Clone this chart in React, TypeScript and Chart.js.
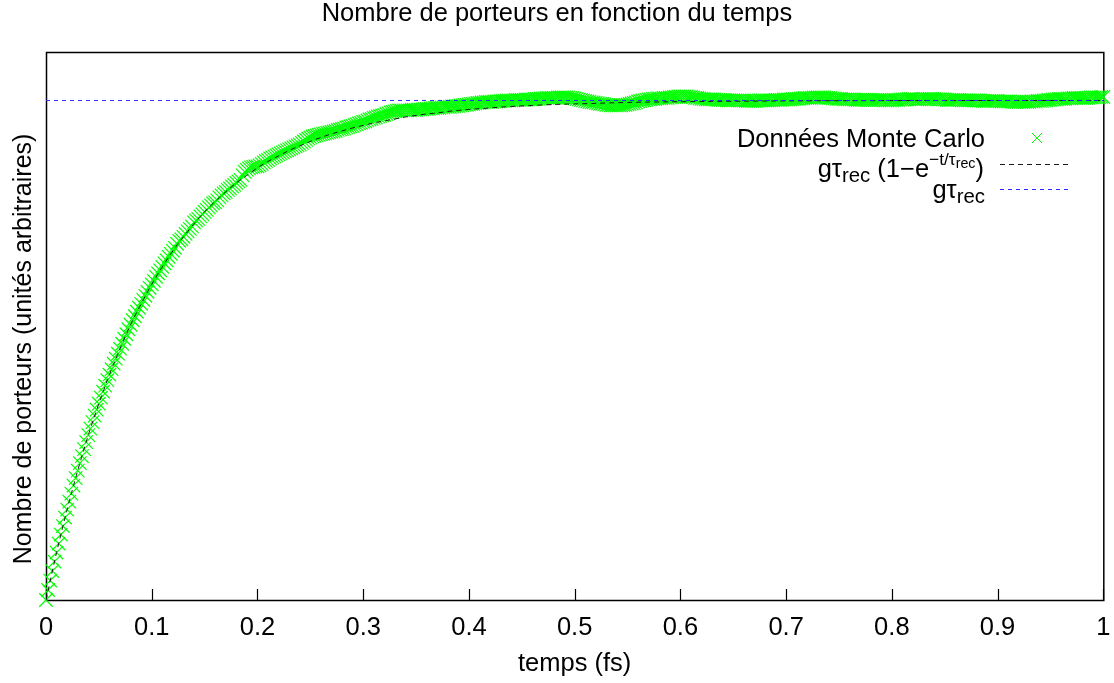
import React, { useEffect, useRef } from "react";
import { Chart, registerables } from "chart.js";

Chart.register(...registerables);

// Monte Carlo samples: one value every MC_STEP fs, starting at t = 0
const MC_STEP = 0.002;
const mcValues: number[] = [
  // 0.000 - 0.098
  0.000, 0.020, 0.039, 0.058, 0.077, 0.095, 0.113, 0.131, 0.148, 0.165,
  0.181, 0.197, 0.213, 0.229, 0.244, 0.259, 0.274, 0.288, 0.302, 0.316,
  0.330, 0.343, 0.356, 0.369, 0.381, 0.393, 0.405, 0.417, 0.429, 0.440,
  0.451, 0.462, 0.473, 0.483, 0.493, 0.503, 0.513, 0.523, 0.532, 0.542,
  0.551, 0.560, 0.568, 0.577, 0.585, 0.593, 0.601, 0.609, 0.617, 0.625,
  // 0.100 - 0.198
  0.632, 0.639, 0.647, 0.654, 0.660, 0.667, 0.674, 0.680, 0.687, 0.693,
  0.699, 0.705, 0.713, 0.719, 0.722, 0.727, 0.733, 0.738, 0.743, 0.748,
  0.756, 0.760, 0.763, 0.768, 0.772, 0.777, 0.781, 0.786, 0.790, 0.794,
  0.796, 0.800, 0.806, 0.810, 0.814, 0.817, 0.821, 0.824, 0.828, 0.831,
  0.835, 0.838, 0.841, 0.850, 0.857, 0.861, 0.864, 0.866, 0.867, 0.868,
  // 0.200 - 0.298
  0.868, 0.870, 0.873, 0.876, 0.879, 0.881, 0.884, 0.886, 0.888, 0.890,
  0.892, 0.894, 0.896, 0.898, 0.900, 0.902, 0.904, 0.906, 0.908, 0.910,
  0.912, 0.915, 0.918, 0.921, 0.924, 0.926, 0.928, 0.929, 0.930, 0.931,
  0.932, 0.933, 0.934, 0.935, 0.936, 0.937, 0.938, 0.939, 0.941, 0.942,
  0.943, 0.944, 0.946, 0.947, 0.948, 0.949, 0.951, 0.952, 0.954, 0.955,
  // 0.300 - 0.398
  0.957, 0.958, 0.960, 0.962, 0.963, 0.965, 0.966, 0.968, 0.969, 0.970,
  0.971, 0.973, 0.974, 0.976, 0.977, 0.978, 0.979, 0.980, 0.980, 0.980,
  0.980, 0.980, 0.980, 0.981, 0.981, 0.981, 0.982, 0.982, 0.982, 0.983,
  0.983, 0.983, 0.984, 0.984, 0.985, 0.985, 0.985, 0.986, 0.986, 0.987,
  0.987, 0.987, 0.988, 0.988, 0.989, 0.989, 0.990, 0.990, 0.991, 0.991,
  // 0.400 - 0.498
  0.992, 0.993, 0.993, 0.994, 0.995, 0.995, 0.996, 0.996, 0.997, 0.997,
  0.997, 0.997, 0.998, 0.998, 0.998, 0.999, 0.999, 0.999, 1.000, 1.000,
  1.000, 1.000, 1.001, 1.001, 1.001, 1.001, 1.001, 1.002, 1.002, 1.002,
  1.002, 1.003, 1.003, 1.003, 1.004, 1.004, 1.004, 1.005, 1.005, 1.005,
  1.005, 1.005, 1.006, 1.006, 1.006, 1.006, 1.006, 1.006, 1.005, 1.005,
  // 0.500 - 0.598
  1.004, 1.003, 1.002, 1.001, 1.000, 0.999, 0.998, 0.997, 0.996, 0.996,
  0.995, 0.994, 0.993, 0.993, 0.992, 0.991, 0.991, 0.990, 0.990, 0.990,
  0.990, 0.990, 0.990, 0.991, 0.991, 0.992, 0.993, 0.994, 0.995, 0.996,
  0.998, 0.999, 1.000, 1.000, 1.001, 1.002, 1.002, 1.003, 1.003, 1.004,
  1.004, 1.004, 1.005, 1.005, 1.005, 1.006, 1.006, 1.007, 1.007, 1.008,
  // 0.600 - 0.698
  1.008, 1.008, 1.008, 1.008, 1.007, 1.007, 1.006, 1.005, 1.005, 1.004,
  1.003, 1.003, 1.002, 1.002, 1.002, 1.002, 1.002, 1.001, 1.001, 1.001,
  1.001, 1.001, 1.000, 1.000, 1.000, 1.000, 1.000, 1.000, 1.000, 1.000,
  1.000, 0.999, 0.999, 0.999, 0.999, 0.999, 0.999, 1.000, 1.000, 1.000,
  1.000, 1.000, 1.000, 1.000, 1.000, 1.001, 1.001, 1.001, 1.001, 1.002,
  // 0.700 - 0.798
  1.002, 1.002, 1.002, 1.003, 1.003, 1.003, 1.003, 1.004, 1.004, 1.005,
  1.005, 1.005, 1.005, 1.006, 1.006, 1.006, 1.006, 1.006, 1.006, 1.005,
  1.005, 1.005, 1.004, 1.004, 1.003, 1.003, 1.003, 1.002, 1.002, 1.002,
  1.002, 1.002, 1.002, 1.001, 1.001, 1.001, 1.001, 1.001, 1.001, 1.001,
  1.001, 1.001, 1.001, 1.001, 1.001, 1.001, 1.000, 1.000, 1.000, 1.000,
  // 0.800 - 0.898
  1.000, 1.001, 1.001, 1.001, 1.002, 1.002, 1.002, 1.002, 1.003, 1.003,
  1.003, 1.002, 1.002, 1.002, 1.002, 1.003, 1.003, 1.003, 1.003, 1.003,
  1.003, 1.002, 1.002, 1.002, 1.002, 1.002, 1.001, 1.001, 1.001, 1.001,
  1.001, 1.001, 1.001, 1.000, 1.000, 1.000, 1.000, 1.000, 1.000, 1.000,
  1.000, 1.000, 1.000, 0.999, 0.999, 0.999, 0.999, 0.999, 0.999, 0.999,
  // 0.900 - 1.000
  0.999, 0.998, 0.998, 0.998, 0.998, 0.998, 0.998, 0.997, 0.997, 0.997,
  0.997, 0.997, 0.997, 0.997, 0.997, 0.997, 0.998, 0.998, 0.998, 0.999,
  0.999, 0.999, 1.000, 1.000, 1.001, 1.001, 1.002, 1.002, 1.002, 1.003,
  1.003, 1.003, 1.003, 1.004, 1.004, 1.004, 1.005, 1.005, 1.005, 1.005,
  1.005, 1.005, 1.005, 1.005, 1.006, 1.006, 1.006, 1.006, 1.006, 1.007,
  1.007,
];

// Fitted curve g·τrec·(1 − exp(−t/τrec)), tabulated
const fitTimes: number[] = [
  0, 0.01, 0.02, 0.03, 0.04, 0.05, 0.06, 0.07, 0.08, 0.09,
  0.1, 0.11, 0.12, 0.13, 0.14, 0.15, 0.16, 0.17, 0.18, 0.19,
  0.2, 0.21, 0.22, 0.23, 0.24, 0.25, 0.26, 0.27, 0.28, 0.29,
  0.3, 0.31, 0.32, 0.33, 0.34, 0.35, 0.36, 0.37, 0.38, 0.39,
  0.4, 0.42, 0.44, 0.46, 0.48, 0.5, 0.55, 0.6, 0.7, 0.8, 0.9, 1.0,
];
const fitValues: number[] = [
  0, 0.095, 0.181, 0.259, 0.330, 0.393, 0.451, 0.503, 0.551, 0.593,
  0.632, 0.667, 0.699, 0.727, 0.753, 0.777, 0.798, 0.817, 0.835, 0.850,
  0.865, 0.878, 0.889, 0.900, 0.909, 0.918, 0.926, 0.933, 0.939, 0.945,
  0.950, 0.955, 0.959, 0.963, 0.967, 0.970, 0.973, 0.975, 0.978, 0.980,
  0.982, 0.985, 0.988, 0.990, 0.992, 0.993, 0.996, 0.9975, 0.9991, 0.9997, 0.9999, 1.0,
];

// Saturation level g·τrec
const SATURATION = 1.0;

const X_TICKS: number[] = [0, 0.1, 0.2, 0.3, 0.4, 0.5, 0.6, 0.7, 0.8, 0.9, 1];
const X_TICK_LABELS: string[] = ["0", "0.1", "0.2", "0.3", "0.4", "0.5", "0.6", "0.7", "0.8", "0.9", "1"];

const TITLE = "Nombre de porteurs en fonction du temps";
const X_TITLE = "temps (fs)";
const Y_TITLE = "Nombre de porteurs (unités arbitraires)";
const LEGEND_MC = "Données Monte Carlo";

const Y_MAX = 1.097;
const FONT_SIZE = 25;
const SX = 1.02; // slight horizontal widening of the lettering
const FAMILY = '"Liberation Sans", Arial, Helvetica, sans-serif';
const GREEN = "#00ff00";
const FIT_COLOR = "#1a1a1a";
const BLUE = "#2a2aff";

const font = (size: number) => `${size}px ${FAMILY}`;

type Piece = { t: string; size: number; dy: number };

function drawText(
  ctx: CanvasRenderingContext2D,
  text: string,
  x: number,
  y: number,
  align: CanvasTextAlign,
  size = FONT_SIZE
) {
  ctx.save();
  ctx.font = font(size);
  ctx.textAlign = align;
  ctx.textBaseline = "alphabetic";
  ctx.translate(x, y);
  ctx.scale(SX, 1);
  ctx.fillText(text, 0, 0);
  ctx.restore();
}

function drawRich(ctx: CanvasRenderingContext2D, pieces: Piece[], right: number, baseline: number) {
  let total = 0;
  for (const p of pieces) {
    ctx.font = font(p.size);
    total += ctx.measureText(p.t).width * SX;
  }
  let x = right - total;
  for (const p of pieces) {
    ctx.font = font(p.size);
    const w = ctx.measureText(p.t).width * SX;
    ctx.save();
    ctx.textAlign = "left";
    ctx.textBaseline = "alphabetic";
    ctx.translate(x, baseline + p.dy);
    ctx.scale(SX, 1);
    ctx.fillText(p.t, 0, 0);
    ctx.restore();
    x += w;
  }
}

const frameAndText = {
  id: "frameAndText",
  beforeDatasetsDraw(chart: Chart) {
    const { ctx, chartArea } = chart;
    const { left, top, right, bottom } = chartArea;
    const xs = chart.scales.x;
    ctx.save();
    ctx.strokeStyle = "#000";
    ctx.lineWidth = 1.5;
    ctx.strokeRect(left + 0.5, top + 0.5, right - left, bottom - top);
    ctx.lineWidth = 1.2;
    ctx.beginPath();
    for (const v of X_TICKS) {
      const px = Math.round(xs.getPixelForValue(v)) + 0.5;
      ctx.moveTo(px, bottom);
      ctx.lineTo(px, bottom - 11);
    }
    ctx.stroke();
    ctx.restore();
  },
  afterDraw(chart: Chart) {
    const { ctx, chartArea } = chart;
    const xs = chart.scales.x;
    ctx.save();
    ctx.fillStyle = "#000";

    // title and axis titles
    drawText(ctx, TITLE, 557, 21, "center");
    drawText(ctx, X_TITLE, (chartArea.left + chartArea.right) / 2, 671, "center");
    ctx.save();
    ctx.font = font(FONT_SIZE);
    ctx.textAlign = "center";
    ctx.textBaseline = "alphabetic";
    ctx.translate(31, 349);
    ctx.rotate(-Math.PI / 2);
    ctx.fillText(Y_TITLE, 0, 0);
    ctx.restore();

    // x tick labels
    X_TICKS.forEach((v, i) => {
      drawText(ctx, X_TICK_LABELS[i], xs.getPixelForValue(v), 635, "center");
    });

    // key
    drawText(ctx, LEGEND_MC, 985, 147, "right");
    drawRich(
      ctx,
      [
        { t: "gτ", size: FONT_SIZE, dy: 0 },
        { t: "rec", size: 20, dy: 5 },
        { t: " (1−e", size: FONT_SIZE, dy: 0 },
        { t: "−t/τ", size: 17, dy: -12 },
        { t: "rec", size: 14, dy: -9 },
        { t: ")", size: FONT_SIZE, dy: 0 },
      ],
      984,
      177
    );
    drawRich(
      ctx,
      [
        { t: "gτ", size: FONT_SIZE, dy: 0 },
        { t: "rec", size: 20, dy: 5 },
      ],
      985,
      198
    );

    // key samples
    ctx.strokeStyle = GREEN;
    ctx.lineWidth = 1;
    ctx.beginPath();
    ctx.moveTo(1032, 133);
    ctx.lineTo(1042, 143);
    ctx.moveTo(1042, 133);
    ctx.lineTo(1032, 143);
    ctx.stroke();

    ctx.lineWidth = 1;
    ctx.strokeStyle = FIT_COLOR;
    ctx.setLineDash([5, 4]);
    ctx.beginPath();
    ctx.moveTo(1000, 164.5);
    ctx.lineTo(1068, 164.5);
    ctx.stroke();

    ctx.strokeStyle = BLUE;
    ctx.setLineDash([4, 4]);
    ctx.beginPath();
    ctx.moveTo(1000, 189.5);
    ctx.lineTo(1068, 189.5);
    ctx.stroke();
    ctx.restore();
  },
};

export default function App() {
  const canvasRef = useRef<HTMLCanvasElement | null>(null);

  useEffect(() => {
    if (!canvasRef.current) return;
    const mcPoints = mcValues.map((v, i) => ({ x: i * MC_STEP, y: v }));
    const fitPoints = fitTimes.map((t, i) => ({ x: t, y: fitValues[i] }));
    const satPoints = [
      { x: 0, y: SATURATION },
      { x: 1, y: SATURATION },
    ];

    const chart = new Chart(canvasRef.current, {
      type: "scatter",
      data: {
        datasets: [
          {
            label: LEGEND_MC,
            data: mcPoints,
            pointStyle: "crossRot",
            pointRadius: 9.5,
            borderColor: GREEN,
            backgroundColor: GREEN,
            borderWidth: 1.2,
            showLine: false,
            clip: false,
            order: 3,
          },
          {
            label: "fit",
            data: fitPoints,
            showLine: true,
            pointRadius: 0,
            borderColor: FIT_COLOR,
            borderWidth: 1,
            borderDash: [5, 4],
            cubicInterpolationMode: "monotone",
            fill: false,
            order: 2,
          },
          {
            label: "saturation",
            data: satPoints,
            showLine: true,
            pointRadius: 0,
            borderColor: BLUE,
            borderWidth: 1,
            borderDash: [4, 4],
            fill: false,
            order: 1,
          },
        ],
      },
      options: {
        responsive: false,
        animation: false,
        events: [],
        layout: { padding: { left: 46, top: 52, right: 10, bottom: 83 } },
        plugins: {
          legend: { display: false },
          title: { display: false },
          tooltip: { enabled: false },
        },
        scales: {
          x: { type: "linear", min: 0, max: 1, display: false },
          y: { type: "linear", min: 0, max: Y_MAX, display: false },
        },
      },
      plugins: [frameAndText],
    } as any);

    return () => chart.destroy();
  }, []);

  return (
    <div style={{ position: "absolute", left: 0, top: 0, width: 1114, height: 683, background: "#fff" }}>
      <canvas ref={canvasRef} width={1114} height={683} style={{ display: "block" }} />
    </div>
  );
}
